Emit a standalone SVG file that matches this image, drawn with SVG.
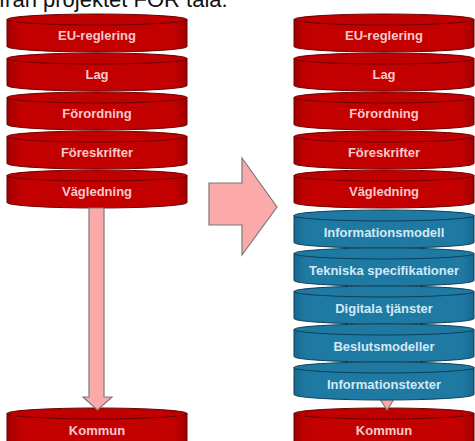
<svg xmlns="http://www.w3.org/2000/svg" width="475" height="441" viewBox="0 0 475 441">
  <style>
    .title { font-family: "Liberation Sans", Arial, sans-serif; font-size: 22px; fill: #111; }
    .lbl { font-family: "Liberation Sans", Arial, sans-serif; font-size: 13px; font-weight: bold; text-anchor: middle; }
    .rbody { fill: url(#redGrad); stroke: #6a0000; stroke-width: 1; }
    .rtop { fill: #c00000; stroke: #6a0000; stroke-width: 1; }
    .rlbl { fill: #f7c9c9; }
    .bbody { fill: url(#blueGrad); stroke: #0e3f58; stroke-width: 1; }
    .btop { fill: #1f7aa3; stroke: #0e3f58; stroke-width: 1; }
    .blbl { fill: #d3e9f5; }
    .arrow { fill: #fba9a9; stroke: #7a7a7a; stroke-width: 1.2; stroke-linejoin: miter; }
  </style>
  <defs>
    <linearGradient id="redGrad" x1="0" y1="0" x2="1" y2="0">
      <stop offset="0" stop-color="#a00000"/>
      <stop offset="0.07" stop-color="#c20000"/>
      <stop offset="0.93" stop-color="#c20000"/>
      <stop offset="1" stop-color="#a00000"/>
    </linearGradient>
    <linearGradient id="blueGrad" x1="0" y1="0" x2="1" y2="0">
      <stop offset="0" stop-color="#176890"/>
      <stop offset="0.07" stop-color="#1f7aa3"/>
      <stop offset="0.93" stop-color="#1f7aa3"/>
      <stop offset="1" stop-color="#176890"/>
    </linearGradient>
  </defs>

  <text class="title" x="-1" y="7">från projektet FOR tala.</text>

  <!-- Left stack -->
  <g id="left-eu" transform="translate(7,14)">
    <path class="rbody" d="M0,5.5 V32.5 A90,5.5 0 0 0 180,32.5 V5.5 Z"/><ellipse class="rtop" cx="90" cy="5.5" rx="90" ry="5.5"/>
    <text class="lbl rlbl" x="90" y="25.5">EU-reglering</text>
  </g>
  <g id="left-lag" transform="translate(7,53)">
    <path class="rbody" d="M0,5.5 V32.5 A90,5.5 0 0 0 180,32.5 V5.5 Z"/><ellipse class="rtop" cx="90" cy="5.5" rx="90" ry="5.5"/>
    <text class="lbl rlbl" x="90" y="25.5">Lag</text>
  </g>
  <g id="left-forordning" transform="translate(7,92)">
    <path class="rbody" d="M0,5.5 V32.5 A90,5.5 0 0 0 180,32.5 V5.5 Z"/><ellipse class="rtop" cx="90" cy="5.5" rx="90" ry="5.5"/>
    <text class="lbl rlbl" x="90" y="25.5">Förordning</text>
  </g>
  <g id="left-foreskrifter" transform="translate(7,131)">
    <path class="rbody" d="M0,5.5 V32.5 A90,5.5 0 0 0 180,32.5 V5.5 Z"/><ellipse class="rtop" cx="90" cy="5.5" rx="90" ry="5.5"/>
    <text class="lbl rlbl" x="90" y="25.5">Föreskrifter</text>
  </g>
  <g id="left-vagledning" transform="translate(7,170)">
    <path class="rbody" d="M0,5.5 V32.5 A90,5.5 0 0 0 180,32.5 V5.5 Z"/><ellipse class="rtop" cx="90" cy="5.5" rx="90" ry="5.5"/>
    <text class="lbl rlbl" x="90" y="25.5">Vägledning</text>
  </g>
  <g id="left-kommun" transform="translate(7,408)">
    <path class="rbody" d="M0,5.5 V45 A90,5.5 0 0 0 180,45 V5.5 Z"/><ellipse class="rtop" cx="90" cy="5.5" rx="90" ry="5.5"/>
    <text class="lbl rlbl" x="90" y="26.5">Kommun</text>
  </g>

  <!-- Right stack (red) -->
  <g id="right-eu" transform="translate(294,14)">
    <path class="rbody" d="M0,5.5 V32.5 A90,5.5 0 0 0 180,32.5 V5.5 Z"/><ellipse class="rtop" cx="90" cy="5.5" rx="90" ry="5.5"/>
    <text class="lbl rlbl" x="90" y="25.5">EU-reglering</text>
  </g>
  <g id="right-lag" transform="translate(294,53)">
    <path class="rbody" d="M0,5.5 V32.5 A90,5.5 0 0 0 180,32.5 V5.5 Z"/><ellipse class="rtop" cx="90" cy="5.5" rx="90" ry="5.5"/>
    <text class="lbl rlbl" x="90" y="25.5">Lag</text>
  </g>
  <g id="right-forordning" transform="translate(294,92)">
    <path class="rbody" d="M0,5.5 V32.5 A90,5.5 0 0 0 180,32.5 V5.5 Z"/><ellipse class="rtop" cx="90" cy="5.5" rx="90" ry="5.5"/>
    <text class="lbl rlbl" x="90" y="25.5">Förordning</text>
  </g>
  <g id="right-foreskrifter" transform="translate(294,131)">
    <path class="rbody" d="M0,5.5 V32.5 A90,5.5 0 0 0 180,32.5 V5.5 Z"/><ellipse class="rtop" cx="90" cy="5.5" rx="90" ry="5.5"/>
    <text class="lbl rlbl" x="90" y="25.5">Föreskrifter</text>
  </g>
  <g id="right-vagledning" transform="translate(294,170)">
    <path class="rbody" d="M0,5.5 V32.5 A90,5.5 0 0 0 180,32.5 V5.5 Z"/><ellipse class="rtop" cx="90" cy="5.5" rx="90" ry="5.5"/>
    <text class="lbl rlbl" x="90" y="25.5">Vägledning</text>
  </g>
  <g id="right-kommun" transform="translate(294,408)">
    <path class="rbody" d="M0,5.5 V45 A90,5.5 0 0 0 180,45 V5.5 Z"/><ellipse class="rtop" cx="90" cy="5.5" rx="90" ry="5.5"/>
    <text class="lbl rlbl" x="90" y="26.5">Kommun</text>
  </g>

  <!-- Connectors -->
  <g id="connectors">
    <polygon class="arrow" points="89,208 104,208 104,397 112,397 97.5,410 83,397 89,397"/>
    <polygon class="arrow" points="209,183 242,183 242,158 277,207 242,255 242,225 209,225"/>
    <polygon class="arrow" points="378,396 396,396 387,410"/>
  </g>

  <!-- Right stack (blue) -->
  <g id="right-informationsmodell" transform="translate(294,210)">
    <path class="bbody" d="M0,5.5 V32.5 A90,5.5 0 0 0 180,32.5 V5.5 Z"/><ellipse class="btop" cx="90" cy="5.5" rx="90" ry="5.5"/>
    <text class="lbl blbl" x="90" y="26.5">Informationsmodell</text>
  </g>
  <g id="right-tekniska" transform="translate(294,248)">
    <path class="bbody" d="M0,5.5 V32.5 A90,5.5 0 0 0 180,32.5 V5.5 Z"/><ellipse class="btop" cx="90" cy="5.5" rx="90" ry="5.5"/>
    <text class="lbl blbl" x="90" y="26.5">Tekniska specifikationer</text>
  </g>
  <g id="right-digitala" transform="translate(294,286)">
    <path class="bbody" d="M0,5.5 V32.5 A90,5.5 0 0 0 180,32.5 V5.5 Z"/><ellipse class="btop" cx="90" cy="5.5" rx="90" ry="5.5"/>
    <text class="lbl blbl" x="90" y="26.5">Digitala tjänster</text>
  </g>
  <g id="right-beslutsmodeller" transform="translate(294,324)">
    <path class="bbody" d="M0,5.5 V32.5 A90,5.5 0 0 0 180,32.5 V5.5 Z"/><ellipse class="btop" cx="90" cy="5.5" rx="90" ry="5.5"/>
    <text class="lbl blbl" x="90" y="26.5">Beslutsmodeller</text>
  </g>
  <g id="right-informationstexter" transform="translate(294,362)">
    <path class="bbody" d="M0,5.5 V32.5 A90,5.5 0 0 0 180,32.5 V5.5 Z"/><ellipse class="btop" cx="90" cy="5.5" rx="90" ry="5.5"/>
    <text class="lbl blbl" x="90" y="26.5">Informationstexter</text>
  </g>
</svg>
